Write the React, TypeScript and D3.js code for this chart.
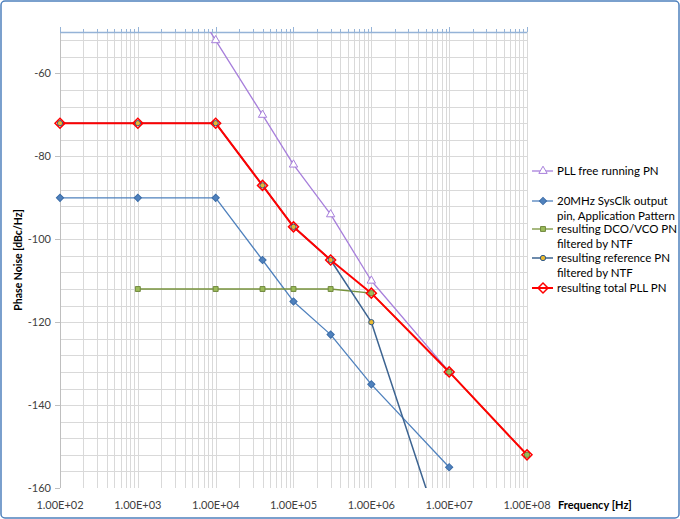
import React from 'react';
import * as d3 from 'd3';

// frequencies [Hz] and phase noise [dBc/Hz] per series
const pllFreq = [1e3, 1e4, 4e4, 1e5, 3e5, 1e6, 1e7];
const pllPn = [-22, -52, -70, -82, -94, -110, -132];

const sysFreq = [1e2, 1e3, 1e4, 4e4, 1e5, 3e5, 1e6, 1e7];
const sysPn = [-90, -90, -90, -105, -115, -123, -135, -155];

const dcoFreq = [1e3, 1e4, 4e4, 1e5, 3e5, 1e6, 1e7, 1e8];
const dcoPn = [-112, -112, -112, -112, -112, -113, -132, -152];

const refFreq = [1e2, 1e3, 1e4, 4e4, 1e5, 3e5, 1e6, 1e7];
const refPn = [-72, -72, -72, -87, -97, -105, -120, -177];

const totFreq = [1e2, 1e3, 1e4, 4e4, 1e5, 3e5, 1e6, 1e7, 1e8];
const totPn = [-72, -72, -72, -87, -97, -105, -113, -132, -152];

const xTicks = [1e2, 1e3, 1e4, 1e5, 1e6, 1e7, 1e8];
const xTickLabels = ['1.00E+02', '1.00E+03', '1.00E+04', '1.00E+05', '1.00E+06', '1.00E+07', '1.00E+08'];
const yTicks = [-60, -80, -100, -120, -140, -160];

type Marker = 'triangle' | 'diamond' | 'square' | 'circle' | 'bigDiamond';

interface Series {
  name: string[];
  freq: number[];
  pn: number[];
  color: string;
  width: number;
  marker: Marker;
  mFill: string;
  mStroke: string;
}

const series: Series[] = [
  { name: ['PLL free running PN'], freq: pllFreq, pn: pllPn, color: '#A77FDB', width: 1.3, marker: 'triangle', mFill: '#fff', mStroke: '#A77FDB' },
  { name: ['20MHz SysClk output', 'pin, Application Pattern'], freq: sysFreq, pn: sysPn, color: '#4F81BD', width: 1.3, marker: 'diamond', mFill: '#4F81BD', mStroke: '#3C6DA8' },
  { name: ['resulting DCO/VCO PN', 'filtered by NTF'], freq: dcoFreq, pn: dcoPn, color: '#77933C', width: 1.3, marker: 'square', mFill: '#9BBB59', mStroke: '#71893F' },
  { name: ['resulting reference PN', 'filtered by NTF'], freq: refFreq, pn: refPn, color: '#3D6491', width: 1.5, marker: 'circle', mFill: '#E8B830', mStroke: '#2F5A8C' },
  { name: ['resulting total PLL PN'], freq: totFreq, pn: totPn, color: '#FF0000', width: 2, marker: 'bigDiamond', mFill: 'none', mStroke: '#FF0000' },
];

const W = 680;
const H = 519;
const plot = { left: 60, right: 527, top: 32, bottom: 488 };
const FONT = 'Lato, "Open Sans", sans-serif';

const markerPath = (m: Marker) => {
  switch (m) {
    case 'triangle': return d3.symbol(d3.symbolTriangle, 30)()!;
    case 'diamond': return d3.symbol(d3.symbolSquare, 26)()!;
    case 'square': return d3.symbol(d3.symbolSquare, 24)()!;
    case 'circle': return d3.symbol(d3.symbolCircle, 22)()!;
    case 'bigDiamond': return d3.symbol(d3.symbolSquare, 50)()!;
  }
};
const markerRot = (m: Marker) => (m === 'diamond' || m === 'bigDiamond' ? 45 : 0);

const MarkerShape = ({ s, x, y }: { s: Series; x: number; y: number }) => (
  <path
    d={markerPath(s.marker)}
    transform={`translate(${x},${y}) rotate(${markerRot(s.marker)})`}
    fill={s.mFill}
    stroke={s.mStroke}
    strokeWidth={s.marker === 'bigDiamond' ? 1.5 : 1}
  />
);

export default function App() {
  const x = d3.scaleLog().domain([1e2, 1e8]).range([plot.left, plot.right]);
  const y = d3.scaleLinear().domain([-160, -50]).range([plot.bottom, plot.top]);

  // minor log grid 1..9 per decade
  const vGrid: number[] = [];
  for (let e = 2; e < 8; e++) for (let k = 1; k < 10; k++) vGrid.push(k * Math.pow(10, e));
  vGrid.push(1e8);
  const hGrid = d3.range(-156, -50, 4);

  const line = d3.line<number>();

  // legend rows
  const legendX = 532;
  const legendTextX = 557;
  const lineH = 14.5;
  const legendStarts = [171, 201, 229, 258, 288];

  return (
    <svg width={W} height={H} style={{ position: 'absolute', left: 0, top: 0, background: '#fff' }} fontFamily={FONT}>
      <defs>
        <clipPath id="plotClip">
          <rect x={plot.left} y={plot.top} width={plot.right - plot.left} height={plot.bottom - plot.top} />
        </clipPath>
      </defs>
      <rect x={1} y={1} width={W - 2} height={H - 2} rx={4} fill="#fff" stroke="#4F81BD" strokeWidth={1.5} />

      {/* grid */}
      <g stroke="#D9D9D9" strokeWidth={1}>
        {hGrid.map(v => (
          <line key={'h' + v} x1={plot.left} x2={plot.right} y1={Math.round(y(v)) + 0.5} y2={Math.round(y(v)) + 0.5} />
        ))}
        {vGrid.map(v => (
          <line key={'v' + v} x1={Math.round(x(v)) + 0.5} x2={Math.round(x(v)) + 0.5} y1={plot.top} y2={plot.bottom} />
        ))}
      </g>

      {/* y axis */}
      <g>
        <line x1={plot.left + 0.5} x2={plot.left + 0.5} y1={plot.top} y2={plot.bottom} stroke="#BFBFBF" />
        {yTicks.map(v => (
          <g key={'yt' + v}>
            <line x1={plot.left - 5} x2={plot.left} y1={Math.round(y(v)) + 0.5} y2={Math.round(y(v)) + 0.5} stroke="#BFBFBF" />
            <text x={plot.left - 9} y={y(v)} dy="0.35em" textAnchor="end" fontSize={11} fill="#404040">{v}</text>
          </g>
        ))}
      </g>

      {/* x axis line at top, labels at bottom */}
      <g stroke="#95B3D7">
        <line x1={plot.left} x2={plot.right} y1={plot.top + 0.5} y2={plot.top + 0.5} strokeWidth={1.5} />
        {vGrid.map(v => {
          const major = xTicks.includes(v);
          return (
            <line key={'xt' + v} x1={Math.round(x(v)) + 0.5} x2={Math.round(x(v)) + 0.5}
              y1={plot.top} y2={plot.top - (major ? 5 : 3)} />
          );
        })}
      </g>
      {xTicks.map((v, i) => (
        <text key={'xl' + v} x={x(v)} y={505} dy="0.35em" textAnchor="middle" fontSize={11} fill="#404040">{xTickLabels[i]}</text>
      ))}

      {/* axis titles */}
      <text x={558} y={505} dy="0.35em" fontSize={11} fontWeight="bold" fill="#000">Frequency [Hz]</text>
      <text transform="translate(18,260) rotate(-90)" textAnchor="middle" dy="0.35em" fontSize={10.5} fontWeight="bold" fill="#000">Phase Noise [dBc/Hz]</text>

      {/* series */}
      <g clipPath="url(#plotClip)">
        {series.map((s, si) => (
          <path key={'l' + si}
            d={line(s.freq.map((f, i) => [x(f), y(s.pn[i])] as [number, number]) as any)!}
            fill="none" stroke={s.color} strokeWidth={s.width} strokeLinejoin="round" />
        ))}
      </g>
      <g>
        {series.map((s, si) => (
          <g key={'m' + si}>
            {s.freq.map((f, i) => {
              const py = y(s.pn[i]);
              if (py < plot.top - 1 || py > plot.bottom + 1) return null;
              return <MarkerShape key={i} s={s} x={x(f)} y={py} />;
            })}
          </g>
        ))}
      </g>

      {/* legend */}
      <g>
        {series.map((s, si) => (
          <g key={'lg' + si}>
            <line x1={legendX} x2={legendX + 21} y1={legendStarts[si]} y2={legendStarts[si]} stroke={s.color} strokeWidth={s.width} />
            <MarkerShape s={s} x={legendX + 11} y={legendStarts[si]} />
            {s.name.map((t, k) => (
              <text key={k} x={legendTextX} y={legendStarts[si] + k * lineH} dy="0.35em" fontSize={11.5} fill="#000">{t}</text>
            ))}
          </g>
        ))}
      </g>
    </svg>
  );
}
